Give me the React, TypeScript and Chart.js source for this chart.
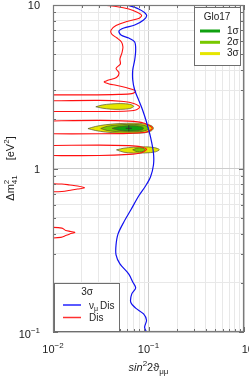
import React, { useEffect, useRef } from 'react';
import { Chart, registerables } from 'chart.js';

Chart.register(...registerables);

type P = [number, number];

const xTicks = [0.01, 0.02, 0.03, 0.04, 0.05, 0.06, 0.07, 0.08, 0.09, 0.1, 0.2, 0.3, 0.4, 0.5, 0.6, 0.7, 0.8, 0.9, 1];
const yTicks = [0.1, 0.2, 0.3, 0.4, 0.5, 0.6, 0.7, 0.8, 0.9, 1, 2, 3, 4, 5, 6, 7, 8, 9, 10];
const xTickLabels = [
  { v: 0.01, base: '10', exp: '−2' },
  { v: 0.1, base: '10', exp: '−1' },
  { v: 1, base: '10', exp: '0' },
];
const yTickLabels = [
  { v: 0.1, base: '10', exp: '−1' },
  { v: 1, base: '1', exp: '' },
  { v: 10, base: '10', exp: '' },
];

// nu_mu disappearance 3 sigma
const numuDis: P[] = [
  [0.0593, 10], [0.0789, 9.45], [0.0953, 8.69], [0.0888, 8.09], [0.0717, 7.54], [0.0552, 7.23],
  [0.0491, 6.93], [0.0515, 6.55], [0.0622, 6.28], [0.0717, 5.94], [0.0734, 5.31], [0.0717, 4.61],
  [0.0684, 4.0], [0.0684, 3.48], [0.0717, 3.02], [0.0789, 2.62], [0.0867, 2.28], [0.0953, 1.925],
  [0.1049, 1.559], [0.1127, 1.245], [0.1127, 1.05], [0.1049, 0.887], [0.0931, 0.782], [0.0789, 0.679],
  [0.0652, 0.557], [0.0552, 0.471], [0.0479, 0.397], [0.0457, 0.34], [0.0457, 0.296], [0.0502, 0.261],
  [0.0622, 0.226], [0.0684, 0.202], [0.0734, 0.186], [0.0668, 0.171], [0.0652, 0.152], [0.0734, 0.14],
  [0.0888, 0.129], [0.0953, 0.118], [0.091, 0.107], [0.0953, 0.1],
];

// Dis 3 sigma (pieces)
const disTop: P[] = [
  [0.0328, 10], [0.0457, 9.79], [0.0622, 9.45], [0.077, 9.0], [0.0847, 8.63], [0.0789, 8.27],
  [0.0593, 7.93], [0.0457, 7.49], [0.0406, 7.03], [0.0411, 6.65], [0.0468, 6.28], [0.0521, 5.94],
  [0.054, 5.53], [0.0527, 5.09], [0.0502, 4.67], [0.0508, 4.36], [0.0457, 4.09], [0.0491, 3.84],
  [0.0462, 3.6], [0.0369, 3.45], [0.0344, 3.38], [0.0387, 3.29], [0.0457, 3.23], [0.0579, 3.13],
  [0.0684, 3.04], [0.0735, 2.96], [0.0668, 2.87], [0.0491, 2.84], [0.0241, 2.82], [0.01, 2.82], [0.008, 2.82],
];
const disBandB: P[] = [
  [0.008, 2.59], [0.0305, 2.61], [0.0553, 2.57], [0.07, 2.5], [0.0808, 2.38], [0.0735, 2.28],
  [0.0553, 2.24], [0.0241, 2.23], [0.008, 2.23],
];
const disBandC: P[] = [
  [0.008, 1.95], [0.0305, 1.97], [0.0622, 1.95], [0.0888, 1.9], [0.1099, 1.77], [0.0954, 1.67],
  [0.0622, 1.64], [0.0305, 1.63], [0.008, 1.63],
];
const disBandD: P[] = [
  [0.008, 1.38], [0.0305, 1.39], [0.0622, 1.38], [0.0827, 1.36], [0.0954, 1.31], [0.0847, 1.25],
  [0.0622, 1.22], [0.0305, 1.2], [0.008, 1.2],
];
const disBandE: P[] = [
  [0.008, 0.81], [0.0124, 0.804], [0.015, 0.793], [0.0181, 0.782], [0.0214, 0.762], [0.0181, 0.749],
  [0.0157, 0.739], [0.0124, 0.723], [0.008, 0.72],
];
const disBandF: P[] = [
  [0.008, 0.439], [0.0124, 0.432], [0.0136, 0.418], [0.0153, 0.412], [0.0169, 0.406], [0.015, 0.398],
  [0.0136, 0.389], [0.0121, 0.379], [0.008, 0.373],
];

// Glo17 regions
const glo3sA: P[] = [
  [0.02809, 2.385], [0.03277, 2.446], [0.04057, 2.481], [0.05144, 2.495], [0.0637, 2.471], [0.07005, 2.402],
  [0.0637, 2.326], [0.05144, 2.3], [0.04057, 2.306], [0.03277, 2.339], [0.02809, 2.385],
];
const glo3sB: P[] = [
  [0.02323, 1.754], [0.02776, 1.807], [0.03519, 1.851], [0.04906, 1.882], [0.07005, 1.893], [0.09306, 1.872],
  [0.1087, 1.82], [0.1126, 1.762], [0.1075, 1.701], [0.091, 1.653], [0.0684, 1.64], [0.04906, 1.646],
  [0.03519, 1.672], [0.02776, 1.708], [0.02323, 1.754],
];
const glo2sB: P[] = [
  [0.03162, 1.757], [0.0369, 1.812], [0.04679, 1.846], [0.0622, 1.862], [0.08269, 1.851], [0.09651, 1.812],
  [0.1, 1.762], [0.09537, 1.713], [0.08075, 1.679], [0.0622, 1.67], [0.04679, 1.681], [0.0369, 1.708],
  [0.03162, 1.757],
];
const glo1sB: P[] = [
  [0.04155, 1.759], [0.04906, 1.805], [0.0622, 1.826], [0.07701, 1.82], [0.0867, 1.79], [0.0888, 1.762],
  [0.0857, 1.725], [0.07345, 1.701], [0.0593, 1.696], [0.04906, 1.713], [0.04155, 1.759],
];
const glo3sC: P[] = [
  [0.04624, 1.3], [0.05525, 1.331], [0.07005, 1.35], [0.09306, 1.357], [0.1153, 1.342], [0.1299, 1.305],
  [0.1181, 1.264], [0.09306, 1.245], [0.07005, 1.243], [0.05525, 1.257], [0.04624, 1.3],
];
const glo2sC: P[] = [
  [0.0684, 1.302], [0.07522, 1.329], [0.08269, 1.338], [0.08988, 1.325], [0.09204, 1.302], [0.0888, 1.275],
  [0.08075, 1.264], [0.07345, 1.274], [0.0684, 1.302],
];
const bestFit: P[] = [[0.0622, 1.762]];

const C_RED = '#ff1010';
const C_BLUE = '#1010f0';
const C_G1 = '#10a010';
const C_G2 = '#78c800';
const C_G3 = '#e6e600';
const C_EDGE = '#54542a';
const FONT = '"Liberation Sans", Arial, Helvetica, sans-serif';

const toXY = (a: P[]) => a.map(([x, y]) => ({ x, y }));
const isMajor = (v: number) => Math.abs(Math.log10(v) - Math.round(Math.log10(v))) < 1e-6;

const lineDs = (d: P[], color: string, w: number) => ({
  data: toXY(d), showLine: true, borderColor: color, borderWidth: w, pointRadius: 0, fill: false, tension: 0.3,
});
const areaDs = (d: P[], color: string) => ({
  data: toXY(d), showLine: true, borderColor: C_EDGE, borderWidth: 0.7, backgroundColor: color,
  pointRadius: 0, fill: 'shape', tension: 0.3,
});

function drawSup(ctx: CanvasRenderingContext2D, base: string, exp: string, x: number, y: number, align: 'center' | 'right') {
  ctx.font = `11px ${FONT}`;
  const wb = ctx.measureText(base).width;
  ctx.font = `8px ${FONT}`;
  const we = exp ? ctx.measureText(exp).width : 0;
  const total = wb + we;
  const x0 = align === 'center' ? x - total / 2 : x - total;
  ctx.textAlign = 'left';
  ctx.textBaseline = 'alphabetic';
  ctx.font = `11px ${FONT}`;
  ctx.fillText(base, x0, y);
  if (exp) {
    ctx.font = `8px ${FONT}`;
    ctx.fillText(exp, x0 + wb, y - 5);
  }
}

const decor = {
  id: 'decor',
  afterDraw(chart: any) {
    const { ctx, chartArea: a, scales } = chart;
    const xs = scales.x;
    const ys = scales.y;
    ctx.save();
    // inward tick marks
    ctx.strokeStyle = '#6e6e6e';
    ctx.lineWidth = 1;
    ctx.beginPath();
    for (const v of xTicks) {
      const px = Math.round(xs.getPixelForValue(v)) + 0.5;
      const L = isMajor(v) ? 5 : 3;
      ctx.moveTo(px, a.bottom); ctx.lineTo(px, a.bottom - L);
      ctx.moveTo(px, a.top); ctx.lineTo(px, a.top + L);
    }
    for (const v of yTicks) {
      const py = Math.round(ys.getPixelForValue(v)) + 0.5;
      const L = isMajor(v) ? 5 : 3;
      ctx.moveTo(a.left, py); ctx.lineTo(a.left + L, py);
      ctx.moveTo(a.right, py); ctx.lineTo(a.right - L, py);
    }
    ctx.stroke();
    // frame
    ctx.strokeStyle = '#7a7a7a';
    ctx.lineWidth = 1.2;
    ctx.strokeRect(a.left + 0.5, a.top + 0.5, a.right - a.left - 1, a.bottom - a.top - 1);

    // tick labels
    ctx.fillStyle = '#222';
    for (const t of xTickLabels) {
      const px = xs.getPixelForValue(t.v);
      const shift = px > a.right - 2 ? 6 : 0;
      drawSup(ctx, t.base, t.exp, px + shift, a.bottom + 21, 'center');
    }
    for (const t of yTickLabels) {
      const py = ys.getPixelForValue(t.v);
      drawSup(ctx, t.base, t.exp, a.left - 13, py + (t.exp ? 6 : 4), 'right');
    }

    // x title
    {
      const cx = (a.left + a.right) / 2;
      const by = a.bottom + 39;
      const parts = [
        { t: 'sin', f: `italic 11px ${FONT}`, dy: 0 },
        { t: '2', f: `8px ${FONT}`, dy: -5 },
        { t: '2ϑ', f: `11px ${FONT}`, dy: 0 },
        { t: 'μμ', f: `8px ${FONT}`, dy: 3 },
      ];
      let total = 0;
      for (const p of parts) { ctx.font = p.f; total += ctx.measureText(p.t).width; }
      let x = cx - total / 2;
      ctx.textAlign = 'left';
      ctx.textBaseline = 'alphabetic';
      for (const p of parts) { ctx.font = p.f; ctx.fillText(p.t, x, by + p.dy); x += ctx.measureText(p.t).width; }
    }

    // y title (rotated)
    {
      const cy = (a.top + a.bottom) / 2;
      ctx.save();
      ctx.translate(14, cy);
      ctx.rotate(-Math.PI / 2);
      ctx.textAlign = 'left';
      ctx.textBaseline = 'alphabetic';
      const f11 = `11px ${FONT}`;
      const f8 = `8px ${FONT}`;
      ctx.font = f11; const wDm = ctx.measureText('Δm').width;
      ctx.font = f8; const w41 = ctx.measureText('41').width;
      ctx.font = f11; const wEv = ctx.measureText('[eV').width; const wB = ctx.measureText(']').width;
      ctx.font = f8; const w2 = ctx.measureText('2').width;
      const gap = 15;
      const total = wDm + w41 + gap + wEv + w2 + wB;
      let x = -total / 2;
      ctx.font = f11; ctx.fillText('Δm', x, 0); x += wDm;
      ctx.font = f8; ctx.fillText('2', x, -5); ctx.fillText('41', x, 3); x += w41 + gap;
      ctx.font = f11; ctx.fillText('[eV', x, 0); x += wEv;
      ctx.font = f8; ctx.fillText('2', x, -5); x += w2;
      ctx.font = f11; ctx.fillText(']', x, 0);
      ctx.restore();
    }

    // legend Glo17 (top right)
    {
      const bw = 46, bh = 58;
      const bx = a.right - 4 - bw, by = a.top + 2;
      ctx.fillStyle = '#fff';
      ctx.fillRect(bx, by, bw, bh);
      ctx.strokeStyle = '#6e6e6e';
      ctx.lineWidth = 1;
      ctx.strokeRect(bx + 0.5, by + 0.5, bw, bh);
      ctx.fillStyle = '#222';
      ctx.font = `10px ${FONT}`;
      ctx.textAlign = 'center';
      ctx.textBaseline = 'middle';
      ctx.fillText('Glo17', bx + 23, by + 10);
      const items = [{ c: C_G1, t: '1σ' }, { c: C_G2, t: '2σ' }, { c: C_G3, t: '3σ' }];
      items.forEach((it, i) => {
        const y = by + 24 + i * 11.3;
        ctx.strokeStyle = it.c;
        ctx.lineWidth = 3;
        ctx.beginPath(); ctx.moveTo(bx + 6, y); ctx.lineTo(bx + 26, y); ctx.stroke();
        ctx.fillStyle = '#222';
        ctx.textAlign = 'left';
        ctx.fillText(it.t, bx + 33, y);
      });
    }

    // legend Dis (bottom left)
    {
      const bw = 65, bh = 48;
      const bx = a.left + 1, by = a.bottom - 1 - bh;
      ctx.fillStyle = '#fff';
      ctx.fillRect(bx, by, bw, bh);
      ctx.strokeStyle = '#6e6e6e';
      ctx.lineWidth = 1;
      ctx.strokeRect(bx + 0.5, by + 0.5, bw, bh);
      ctx.fillStyle = '#222';
      ctx.font = `10px ${FONT}`;
      ctx.textAlign = 'center';
      ctx.textBaseline = 'middle';
      ctx.fillText('3σ', bx + 33, by + 9);
      const y1 = by + 22, y2 = by + 34.5;
      ctx.lineWidth = 2;
      ctx.strokeStyle = '#5a5aff';
      ctx.beginPath(); ctx.moveTo(bx + 9, y1); ctx.lineTo(bx + 27, y1); ctx.stroke();
      ctx.lineWidth = 1.5;
      ctx.strokeStyle = '#ff3030';
      ctx.beginPath(); ctx.moveTo(bx + 9, y2); ctx.lineTo(bx + 27, y2); ctx.stroke();
      ctx.textAlign = 'left';
      ctx.textBaseline = 'alphabetic';
      let x = bx + 35;
      ctx.font = `10px ${FONT}`; ctx.fillText('ν', x, y1 + 3.5); x += ctx.measureText('ν').width;
      ctx.font = `7px ${FONT}`; ctx.fillText('μ', x, y1 + 6); x += ctx.measureText('μ').width + 2;
      ctx.font = `10px ${FONT}`; ctx.fillText('Dis', x, y1 + 3.5);
      ctx.fillText('Dis', bx + 35, y2 + 3.5);
    }
    ctx.restore();
  },
};

export default function App() {
  const ref = useRef<HTMLCanvasElement>(null);
  useEffect(() => {
    document.body.style.margin = '0';
    const datasets: any[] = [
      lineDs(numuDis, C_BLUE, 1.2),
      lineDs(disTop, C_RED, 1.1),
      lineDs(disBandB, C_RED, 1.1),
      lineDs(disBandC, C_RED, 1.1),
      lineDs(disBandD, C_RED, 1.1),
      lineDs(disBandE, C_RED, 1.1),
      lineDs(disBandF, C_RED, 1.1),
      { data: toXY(bestFit), showLine: false, pointStyle: 'cross', pointRadius: 3, borderColor: '#333', borderWidth: 1 },
      areaDs(glo1sB, C_G1),
      areaDs(glo2sB, C_G2),
      areaDs(glo2sC, C_G2),
      areaDs(glo3sA, C_G3),
      areaDs(glo3sB, C_G3),
      areaDs(glo3sC, C_G3),
    ];
    const gridColor = (c: any) => (c.tick && isMajor(c.tick.value) ? '#cdcdcd' : '#e8e8e8');
    const chart = new Chart(ref.current!, {
      type: 'scatter',
      data: { datasets },
      options: {
        responsive: true,
        maintainAspectRatio: false,
        animation: false,
        events: [],
        layout: { padding: { top: 5, right: 2, left: 0, bottom: 0 } },
        plugins: { legend: { display: false }, tooltip: { enabled: false } },
        scales: {
          x: {
            type: 'logarithmic', min: 0.01, max: 1,
            afterBuildTicks: (s: any) => { s.ticks = xTicks.map((v) => ({ value: v })); },
            afterFit: (s: any) => { s.height = 44; },
            ticks: { display: false },
            grid: { color: gridColor, drawTicks: false, lineWidth: 1 },
            border: { display: false },
          },
          y: {
            type: 'logarithmic', min: 0.1, max: 10,
            afterBuildTicks: (s: any) => { s.ticks = yTicks.map((v) => ({ value: v })); },
            afterFit: (s: any) => { s.width = 53; },
            ticks: { display: false },
            grid: { color: gridColor, drawTicks: false, lineWidth: 1 },
            border: { display: false },
          },
        },
      } as any,
      plugins: [decor],
    });
    return () => chart.destroy();
  }, []);
  return (
    <div style={{ width: 249, height: 376, position: 'relative' }}>
      <canvas ref={ref} />
    </div>
  );
}
